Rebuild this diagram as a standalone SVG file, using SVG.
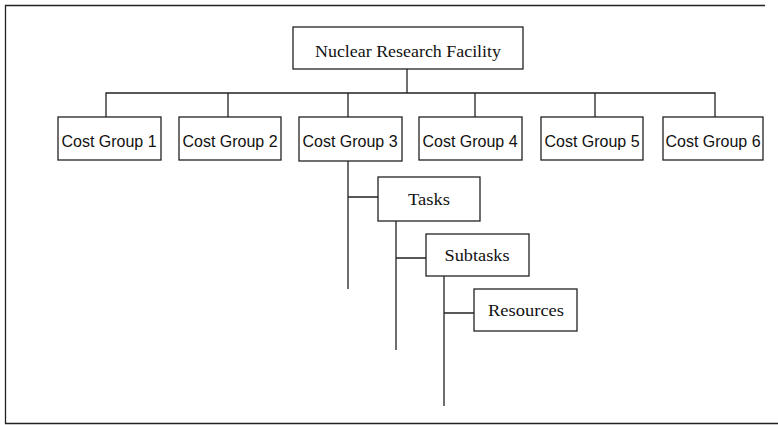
<svg xmlns="http://www.w3.org/2000/svg" width="778" height="425" viewBox="0 0 778 425">
<style>
.box{fill:#fff;stroke:#222;stroke-width:1.3}
.ln{fill:none;stroke:#222;stroke-width:1.3}
.s{font-family:"Liberation Sans",Arial,sans-serif;font-size:16px;fill:#111}
.r{font-family:"Liberation Serif","Times New Roman",serif;font-size:16px;fill:#111}
</style>
<rect width="778" height="425" fill="#fff"/>
<g id="frame" class="ln">
<path d="M765 5.5H5.5V423.5H778"/>
</g>
<g id="connectors" class="ln">
<path d="M407 69V93"/>
<path d="M106 117V93H715V117"/>
<path d="M228 93V117M348 93V117M475 93V117M595 93V117"/>
<path d="M348 161V289M348 197H378"/>
<path d="M396 221V350M396 258H426"/>
<path d="M444 276V406M444 313H474"/>
</g>
<g id="root"><rect class="box" x="293" y="27" width="230" height="42"/><text class="r" x="408" y="57" text-anchor="middle" textLength="186" lengthAdjust="spacingAndGlyphs">Nuclear Research Facility</text></g>
<g id="cg1"><rect class="box" x="58" y="117" width="103" height="43"/><text class="s" x="109" y="147" text-anchor="middle">Cost Group 1</text></g>
<g id="cg2"><rect class="box" x="179" y="117" width="102" height="43"/><text class="s" x="230" y="147" text-anchor="middle">Cost Group 2</text></g>
<g id="cg3"><rect class="box" x="299" y="117" width="103" height="44"/><text class="s" x="350" y="147" text-anchor="middle">Cost Group 3</text></g>
<g id="cg4"><rect class="box" x="419" y="117" width="103" height="43"/><text class="s" x="470" y="147" text-anchor="middle">Cost Group 4</text></g>
<g id="cg5"><rect class="box" x="541" y="117" width="102" height="43"/><text class="s" x="592" y="147" text-anchor="middle">Cost Group 5</text></g>
<g id="cg6"><rect class="box" x="663" y="117" width="100" height="43"/><text class="s" x="713" y="147" text-anchor="middle">Cost Group 6</text></g>
<g id="tasks"><rect class="box" x="378" y="177" width="102" height="44"/><text class="r" x="429" y="205" text-anchor="middle" textLength="42" lengthAdjust="spacingAndGlyphs">Tasks</text></g>
<g id="subtasks"><rect class="box" x="426" y="234" width="103" height="42"/><text class="r" x="477" y="261" text-anchor="middle" textLength="65" lengthAdjust="spacingAndGlyphs">Subtasks</text></g>
<g id="resources"><rect class="box" x="474" y="289" width="103" height="42"/><text class="r" x="526" y="316" text-anchor="middle" textLength="76" lengthAdjust="spacingAndGlyphs">Resources</text></g>
</svg>
